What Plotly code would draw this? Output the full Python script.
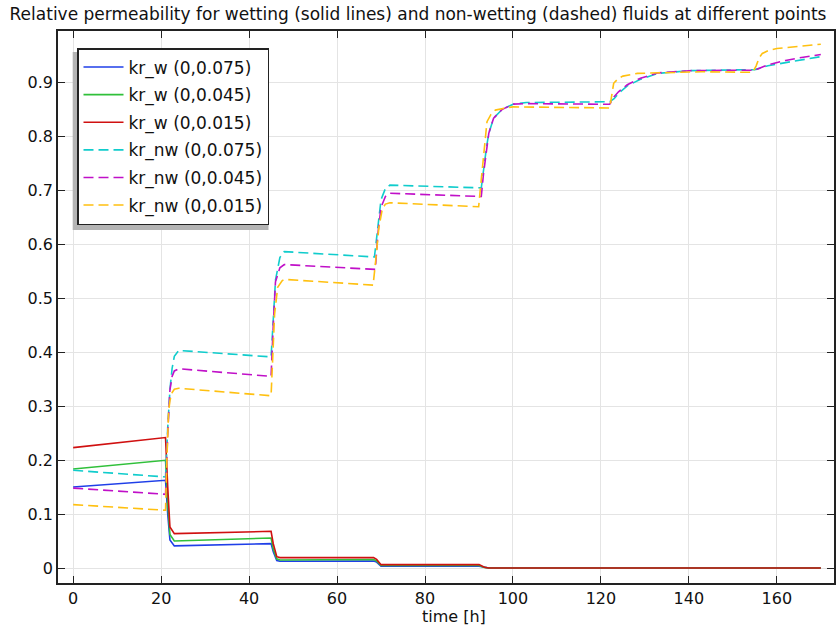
import plotly.graph_objects as go

# ---- data ----
t_w = [0, 21, 21.5, 22, 23, 45, 45.5, 46.3, 47, 68.3, 69, 70, 92.3, 93.5, 94.5, 170]
krw_075 = [0.150, 0.1625, 0.10, 0.052, 0.041, 0.0452, 0.03, 0.014, 0.0125, 0.013, 0.011, 0.0035, 0.0035, 0.001, 0.0, 0.0]
krw_045 = [0.1835, 0.1996, 0.12, 0.062, 0.050, 0.0556, 0.035, 0.017, 0.015, 0.0158, 0.013, 0.0048, 0.0048, 0.0012, 0.0, 0.0]
krw_015 = [0.223, 0.2416, 0.15, 0.076, 0.0637, 0.068, 0.045, 0.021, 0.0193, 0.0193, 0.016, 0.0063, 0.0063, 0.0015, 0.0, 0.0]

t_nw_075 = [0, 21, 21.5, 22, 22.5, 23, 24, 45, 45.5, 46, 47, 48, 68.5, 69.3, 70, 71, 72,
            92.8, 93.3, 94, 94.5, 95.6, 97.5, 100, 103, 122, 123, 124, 126, 129, 133, 140,
            155, 158, 162, 166, 170]
krnw_075 = [0.181, 0.1687, 0.26, 0.33, 0.37, 0.392, 0.403, 0.391, 0.46, 0.533, 0.575, 0.586,
            0.576, 0.63, 0.682, 0.703, 0.709, 0.704, 0.74, 0.78, 0.805, 0.833, 0.849, 0.859,
            0.862, 0.8635, 0.869, 0.879, 0.893, 0.905, 0.916, 0.921, 0.923, 0.93, 0.936, 0.941, 0.947]

t_nw_045 = [0, 21, 21.5, 22, 22.5, 23, 24, 45, 45.5, 46, 47, 48, 68.7, 69.3, 70, 71, 72,
            92.8, 93.3, 94, 94.5, 95.6, 97.5, 100, 103, 122, 123, 124, 126, 129, 133, 140,
            155, 158, 162, 166, 170]
krnw_045 = [0.148, 0.1366, 0.25, 0.33, 0.355, 0.365, 0.369, 0.355, 0.45, 0.53, 0.556, 0.562,
            0.553, 0.62, 0.668, 0.688, 0.694, 0.688, 0.73, 0.78, 0.805, 0.833, 0.849, 0.859,
            0.86, 0.8588, 0.873, 0.882, 0.895, 0.907, 0.917, 0.921, 0.922, 0.932, 0.94, 0.946, 0.951]

t_nw_015 = [0, 21, 21.3, 21.7, 22, 22.5, 23, 24, 45, 45.3, 45.8, 46.5, 47.5, 48, 68.2, 68.8,
            69.5, 70.3, 71, 72, 92.2, 92.8, 93.5, 94.1, 95, 96, 98.7, 100, 122, 122.4, 122.9,
            124, 125, 128.3, 135, 143, 154.5, 155.3, 156, 156.7, 158, 160, 165, 170]
krnw_015 = [0.1175, 0.107, 0.2, 0.29, 0.31, 0.325, 0.331, 0.333, 0.319, 0.38, 0.47, 0.52,
            0.532, 0.5345, 0.524, 0.57, 0.63, 0.665, 0.674, 0.6765, 0.669, 0.72, 0.78, 0.8266,
            0.84, 0.848, 0.8525, 0.854, 0.852, 0.87, 0.8977, 0.907, 0.911, 0.916, 0.918, 0.919,
            0.918, 0.93, 0.945, 0.953, 0.958, 0.962, 0.966, 0.970]

x_ticks = [0, 20, 40, 60, 80, 100, 120, 140, 160]
y_ticks = [0, 0.1, 0.2, 0.3, 0.4, 0.5, 0.6, 0.7, 0.8, 0.9]
y_tick_labels = ["0", "0.1", "0.2", "0.3", "0.4", "0.5", "0.6", "0.7", "0.8", "0.9"]

series = [
    ("kr_w (0,0.075)", t_w, krw_075, "#1f3fe8", "solid"),
    ("kr_w (0,0.045)", t_w, krw_045, "#30c03a", "solid"),
    ("kr_w (0,0.015)", t_w, krw_015, "#d01010", "solid"),
    ("kr_nw (0,0.075)", t_nw_075, krnw_075, "#10cccc", "10px,5px"),
    ("kr_nw (0,0.045)", t_nw_045, krnw_045, "#c010c8", "10px,5px"),
    ("kr_nw (0,0.015)", t_nw_015, krnw_015, "#ffc010", "10px,5px"),
]

fig = go.Figure()
for i, (name, t, v, color, dash) in enumerate(series):
    fig.add_trace(go.Scatter(x=t, y=v, mode="lines", name=name, legendgroup=str(i),
                             line=dict(color=color, width=1.6, dash=dash)))

FONT = "DejaVu Sans"
W, H = 836, 631
L, R, T, B = 58, 2, 31, 48
pw, ph = W - L - R, H - T - B

def px_x(p):  # window pixel -> paper x
    return (p - L) / pw

def px_y(p):  # window pixel -> paper y
    return (H - B - p) / ph

axis_common = dict(showgrid=True, gridcolor="#e4e4e4", gridwidth=1, zeroline=False,
                   showline=True, linecolor="#222222", linewidth=1.5, mirror="allticks",
                   ticks="inside", ticklen=7, tickwidth=1.2, tickcolor="#222222",
                   automargin=False,
                   tickfont=dict(family=FONT, size=16, color="#111111"))

fig.update_layout(
    template="none",
    width=W, height=H,
    margin=dict(l=L, r=R, t=T, b=B, pad=0),
    plot_bgcolor="white", paper_bgcolor="white",
    font=dict(family=FONT, size=16, color="#111111"),
    title=dict(text="Relative permeability for wetting (solid lines) and non-wetting (dashed) fluids at different points",
               x=0.5, xref="container", xanchor="center",
               y=1 - 14 / H, yref="container", yanchor="middle",
               font=dict(family=FONT, size=17, color="#111111")),
    xaxis=dict(range=[-3.45, 173.0], tickvals=x_ticks, **axis_common),
    yaxis=dict(range=[-0.0277, 0.9945], tickvals=y_ticks, ticktext=y_tick_labels,
               **axis_common),
    legend=dict(x=px_x(77), y=px_y(48), xanchor="left", yanchor="top",
                bgcolor="white", bordercolor="#222222", borderwidth=1.5,
                font=dict(family=FONT, size=17, color="#111111"),
                traceorder="grouped", tracegroupgap=2.5, itemwidth=40),
    showlegend=True,
    hovermode=False,
)

# x-axis title
fig.add_annotation(text="time [h]", xref="paper", yref="paper",
                   x=px_x(454), y=px_y(616.5), xanchor="center", yanchor="middle",
                   showarrow=False, font=dict(family=FONT, size=16, color="#111111"))

# legend shadow
fig.add_shape(type="rect", xref="paper", yref="paper",
              x0=px_x(72.7), x1=px_x(268.5), y0=px_y(230), y1=px_y(52),
              fillcolor="#b4b4b4", line=dict(width=0), layer="above")

# place the figure at the window's top-left corner (remove default body margin)
fig.write_html("out.html", config={"displayModeBar": False},
               post_script="document.body.style.margin='0px';")
